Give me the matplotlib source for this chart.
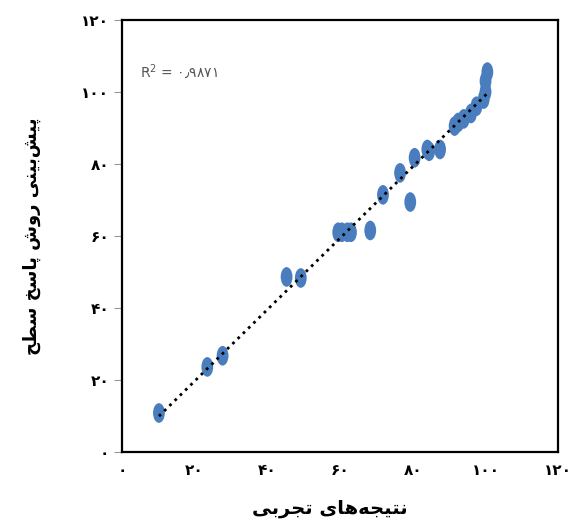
import numpy as np
import matplotlib.pyplot as plt
from matplotlib.path import Path
from matplotlib.transforms import Affine2D

# داده ها (خوانده شده از نمودار)
tajrobi = [10.2, 23.5, 27.7, 45.3, 49.2, 59.5, 60.5, 62.0, 63.0, 68.3,
           71.8, 76.5, 79.3, 80.5, 84.0, 84.5, 87.5, 91.5, 92.5, 94.0,
           96.0, 97.5, 99.5, 100.0, 100.0, 100.5]
pishbini = [10.8, 23.6, 26.7, 48.6, 48.3, 61.0, 61.0, 61.0, 61.0, 61.5,
            71.4, 77.5, 69.4, 81.7, 84.0, 83.5, 84.0, 90.5, 91.5, 92.5,
            94.0, 96.0, 98.0, 100.0, 103.0, 105.5]
tick_vals = [0, 20, 40, 60, 80, 100, 120]
r2_text = 'R$^2$ = ۰٫۹۸۷۱'
xlabel_txt = 'نتیجه\u200cهای تجربی'
ylabel_txt = 'پیش\u200cبینی روش پاسخ سطح'

# شکل دادن ساده حروف فارسی (matplotlib خودش این کار را نمی کند)
FORMS = {
    'ا': ('\uFE8D', '\uFE8E', None, None),
    'ب': ('\uFE8F', '\uFE90', '\uFE91', '\uFE92'),
    'ت': ('\uFE95', '\uFE96', '\uFE97', '\uFE98'),
    'ج': ('\uFE9D', '\uFE9E', '\uFE9F', '\uFEA0'),
    'ح': ('\uFEA1', '\uFEA2', '\uFEA3', '\uFEA4'),
    'خ': ('\uFEA5', '\uFEA6', '\uFEA7', '\uFEA8'),
    'ر': ('\uFEAD', '\uFEAE', None, None),
    'س': ('\uFEB1', '\uFEB2', '\uFEB3', '\uFEB4'),
    'ش': ('\uFEB5', '\uFEB6', '\uFEB7', '\uFEB8'),
    'ط': ('\uFEC1', '\uFEC2', '\uFEC3', '\uFEC4'),
    'ن': ('\uFEE5', '\uFEE6', '\uFEE7', '\uFEE8'),
    'ه': ('\uFEE9', '\uFEEA', '\uFEEB', '\uFEEC'),
    'و': ('\uFEED', '\uFEEE', None, None),
    'ی': ('\uFBFC', '\uFBFD', '\uFBFE', '\uFBFF'),
    'پ': ('\uFB56', '\uFB57', '\uFB58', '\uFB59'),
}


def shape(s):
    out = []
    for i, ch in enumerate(s):
        if ch not in FORMS:
            if ch != '\u200c':
                out.append(ch)
            continue
        prev = s[i - 1] if i > 0 else ''
        nxt = s[i + 1] if i + 1 < len(s) else ''
        join_prev = prev in FORMS and FORMS[prev][2] is not None
        join_next = nxt in FORMS and FORMS[ch][2] is not None
        iso, fin, ini, med = FORMS[ch]
        if join_prev and join_next:
            out.append(med)
        elif join_prev:
            out.append(fin)
        elif join_next:
            out.append(ini)
        else:
            out.append(iso)
    return ''.join(out[::-1])


def fa_num(n):
    return str(n).translate(str.maketrans('0123456789', '۰۱۲۳۴۵۶۷۸۹'))


ellipse = Path.unit_circle().transformed(Affine2D().scale(0.6, 1.0))

fig = plt.figure(figsize=(5.72, 5.23), dpi=100)
ax = fig.add_axes([0.213, 0.136, 0.763, 0.826])

ax.scatter(tajrobi, pishbini, marker=ellipse, s=200, color='#4a7dbd',
           edgecolors='none', zorder=2)

coef = np.polyfit(tajrobi, pishbini, 1)
xl = np.array([min(tajrobi), max(tajrobi)])
ax.plot(xl, np.polyval(coef, xl), color='black', linestyle=':', linewidth=2,
        zorder=3)

ax.text(5, 104, r2_text, fontsize=10, color='#555555')

ax.set_xlim(0, 120)
ax.set_ylim(0, 120)
ax.set_xticks(tick_vals)
ax.set_yticks(tick_vals)
ax.set_xticklabels([fa_num(v) for v in tick_vals], fontweight='bold', fontsize=11)
ax.set_yticklabels([fa_num(v) for v in tick_vals], fontweight='bold', fontsize=11)
ax.tick_params(axis='x', length=0, pad=8)
ax.tick_params(axis='y', length=6, color='#999999', pad=3)

for sp in ax.spines.values():
    sp.set_linewidth(1.6)
    sp.set_color('black')

ax.set_xlabel(shape(xlabel_txt), fontsize=14, fontweight='bold', labelpad=17)
ax.xaxis.set_label_coords(0.477, -0.11, transform=ax.transAxes)
ax.xaxis.label.set_va('top')
ax.set_ylabel(shape(ylabel_txt), fontsize=13, fontweight='bold', labelpad=29)

fig.savefig('out.png', dpi=100)
